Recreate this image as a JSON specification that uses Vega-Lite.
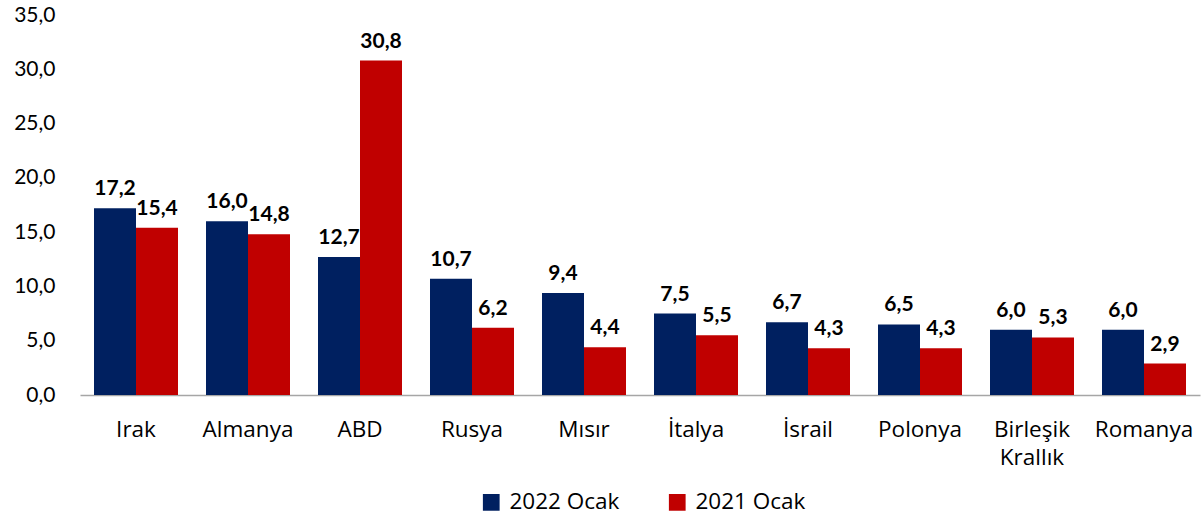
{
  "$schema": "https://vega.github.io/schema/vega-lite/v6.json",
  "width": 1120,
  "height": 380,
  "autosize": {"type": "none"},
  "padding": {"left": 80, "top": 15, "right": 3, "bottom": 124},
  "config": {
    "locale": {"number": {"decimal": ",", "thousands": ".", "grouping": [3], "currency": ["", ""]}},
    "font": "Lato",
    "view": {"stroke": null}
  },
  "data": {
    "values": [
      {"ulke": "Irak", "donem": "2022 Ocak", "deger": 17.2},
      {"ulke": "Irak", "donem": "2021 Ocak", "deger": 15.4},
      {"ulke": "Almanya", "donem": "2022 Ocak", "deger": 16.0},
      {"ulke": "Almanya", "donem": "2021 Ocak", "deger": 14.8},
      {"ulke": "ABD", "donem": "2022 Ocak", "deger": 12.7},
      {"ulke": "ABD", "donem": "2021 Ocak", "deger": 30.8},
      {"ulke": "Rusya", "donem": "2022 Ocak", "deger": 10.7},
      {"ulke": "Rusya", "donem": "2021 Ocak", "deger": 6.2},
      {"ulke": "Mısır", "donem": "2022 Ocak", "deger": 9.4},
      {"ulke": "Mısır", "donem": "2021 Ocak", "deger": 4.4},
      {"ulke": "İtalya", "donem": "2022 Ocak", "deger": 7.5},
      {"ulke": "İtalya", "donem": "2021 Ocak", "deger": 5.5},
      {"ulke": "İsrail", "donem": "2022 Ocak", "deger": 6.7},
      {"ulke": "İsrail", "donem": "2021 Ocak", "deger": 4.3},
      {"ulke": "Polonya", "donem": "2022 Ocak", "deger": 6.5},
      {"ulke": "Polonya", "donem": "2021 Ocak", "deger": 4.3},
      {"ulke": "Birleşik Krallık", "donem": "2022 Ocak", "deger": 6.0},
      {"ulke": "Birleşik Krallık", "donem": "2021 Ocak", "deger": 5.3},
      {"ulke": "Romanya", "donem": "2022 Ocak", "deger": 6.0},
      {"ulke": "Romanya", "donem": "2021 Ocak", "deger": 2.9}
    ]
  },
  "encoding": {
    "x": {
      "field": "ulke", "type": "nominal", "sort": null,
      "scale": {"paddingInner": 0.25, "paddingOuter": 0.125},
      "axis": {
        "title": null, "labelAngle": 0, "ticks": false,
        "domainColor": "#a6a6a6", "domainWidth": 1.5,
        "labelFontSize": 22.5, "labelColor": "#000000", "labelPadding": 23,
        "labelFont": "Open Sans",
        "labelExpr": "datum.value == 'Birleşik Krallık' ? ['Birleşik', 'Krallık'] : datum.value",
        "labelLineHeight": 28
      }
    },
    "xOffset": {"field": "donem", "type": "nominal", "sort": ["2022 Ocak", "2021 Ocak"]},
    "y": {
      "field": "deger", "type": "quantitative",
      "scale": {"domain": [0, 35]},
      "axis": {
        "title": null, "values": [0, 5, 10, 15, 20, 25, 30, 35], "format": ".1f",
        "grid": false, "domain": false, "ticks": false,
        "labelFontSize": 21, "labelColor": "#000000", "labelPadding": 25
      }
    }
  },
  "layer": [
    {
      "mark": {"type": "bar"},
      "encoding": {
        "color": {
          "field": "donem", "type": "nominal",
          "scale": {"domain": ["2022 Ocak", "2021 Ocak"], "range": ["#002060", "#C00000"]},
          "legend": {
            "title": null, "orient": "none", "direction": "horizontal",
            "legendX": 400, "legendY": 476,
            "symbolType": "square", "symbolSize": 280, "symbolStrokeWidth": 0,
            "labelFont": "Open Sans",
            "labelFontSize": 22.5, "labelColor": "#000000", "columnPadding": 46,
            "labelOffset": 7
          }
        }
      }
    },
    {
      "mark": {"type": "text", "baseline": "bottom", "dy": -9, "fontSize": 21, "fontWeight": "bold", "color": "#000000"},
      "encoding": {
        "text": {"field": "deger", "type": "quantitative", "format": ".1f"}
      }
    }
  ]
}
